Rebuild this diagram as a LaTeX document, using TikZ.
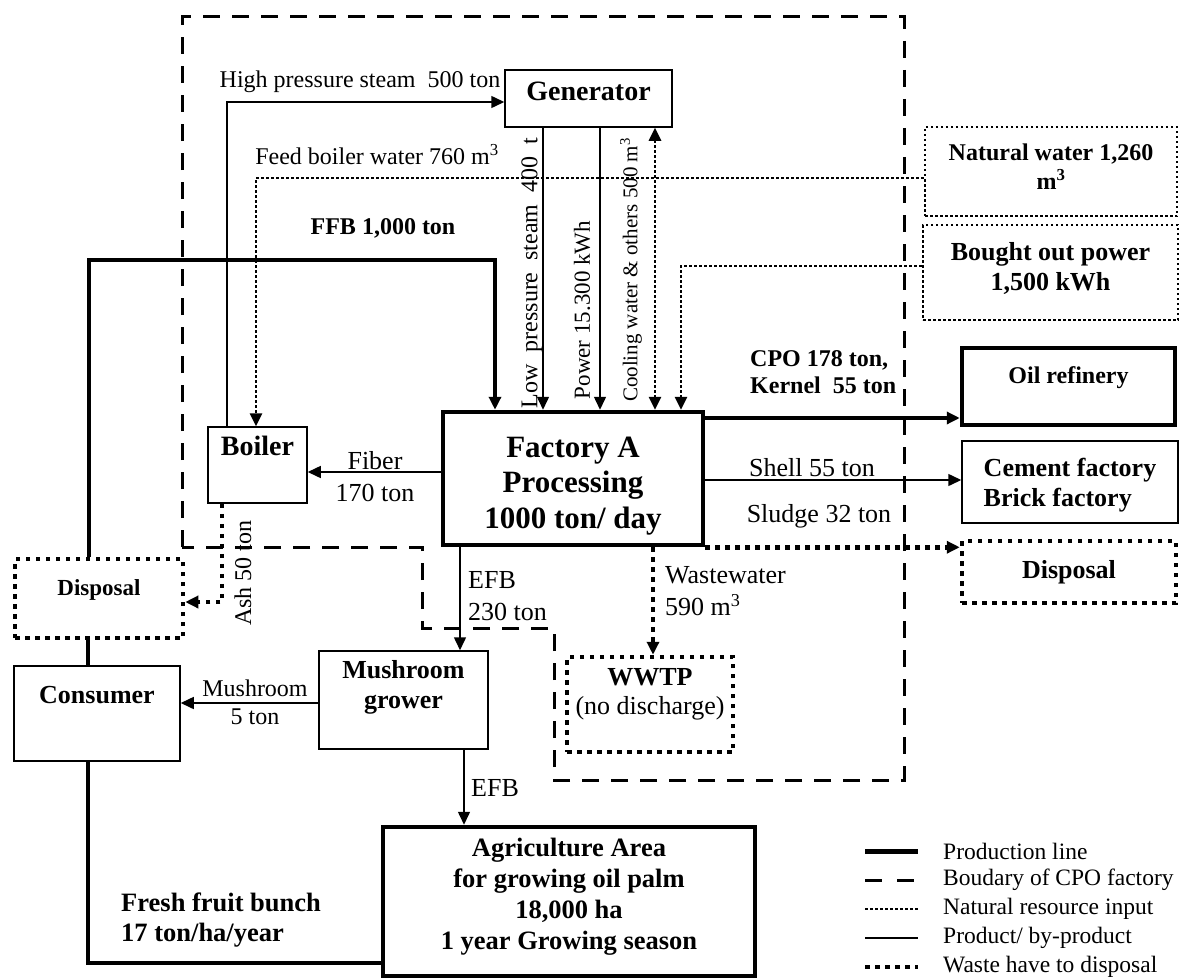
\documentclass[tikz,border=0pt]{standalone}
\usepackage{fontspec}
\setmainfont{Liberation Serif}
\usetikzlibrary{arrows.meta}
\newcommand{\fs}[2]{\fontsize{#1}{#2}\selectfont}
\begin{document}
\begin{tikzpicture}[x=1pt,y=-1pt,
  box/.style={draw, line width=1.5pt, fill=white, inner sep=0pt, align=center},
  prodbox/.style={box, line width=4.5pt},
  dotbox/.style={box, line width=2.6pt, dash pattern=on 2.5pt off 2.5pt},
  wastebox/.style={box, line width=4.5pt, dash pattern=on 4.5pt off 5.5pt},
  thinln/.style={line width=1.5pt},
  prodln/.style={line width=4.5pt},
  boundln/.style={line width=3pt, dash pattern=on 17pt off 12pt},
  natln/.style={line width=2.6pt, dash pattern=on 2.5pt off 2.5pt},
  wasteln/.style={line width=4.5pt, dash pattern=on 4.5pt off 5.5pt},
  tip/.style={-{Triangle[length=13pt,width=12pt]}},
  tips/.style={{Triangle[length=13pt,width=12pt]}-{Triangle[length=13pt,width=12pt]}},
  lbl/.style={inner sep=0pt, align=center, font=\fs{26}{32}},
  lbls/.style={lbl, font=\fs{24}{29}},
  bold/.style={inner sep=0pt, align=center, font=\fs{26}{30}\bfseries},
]
\useasboundingbox (0,0) rectangle (1180,979);

% boundary of the CPO factory
\draw[boundln] (182,547) -- (182,17) -- (904,17) -- (904,780) -- (554,780)
  -- (554,628) -- (422,628) -- (422,547) -- cycle;

% boxes
\node[box, minimum width=167pt, minimum height=57pt] (gen) at (588.5,98.5) {};
\node[bold, font=\fs{28}{32}\bfseries] (genT) at ([yshift=-22pt]gen.north) {Generator};
\node[box, minimum width=99pt, minimum height=76pt] (boiler) at (257.5,465) {};
\node[bold, font=\fs{28}{32}\bfseries] (boilerT) at ([yshift=-20pt]boiler.north) {Boiler};
\node[prodbox, minimum width=260pt, minimum height=133pt] (fac) at (573,478.5) {};
\node[bold, font=\fs{31}{35.5}\bfseries] (facT) at ([yshift=-76pt]fac.north) {Factory A\\Processing\\1000 ton/ day};
\node[dotbox, minimum width=252pt, minimum height=89pt] (natw) at (1051,171.5) {};
\node[bold, font=\fs{24}{29}\bfseries] (natwT) at ([yshift=-41pt]natw.north) {Natural water 1,260\\m\textsuperscript{3}};
\node[dotbox, minimum width=255pt, minimum height=95pt] (bought) at (1050.5,272.5) {};
\node[bold] (boughtT) at ([yshift=-45pt]bought.north) {Bought out power\\1,500 kWh};
\node[prodbox, minimum width=213pt, minimum height=77pt] (oil) at (1068.5,386.5) {};
\node[bold, font=\fs{24}{29}\bfseries] (oilT) at ([yshift=-32pt]oil.north) {Oil refinery};
\node[box, minimum width=216pt, minimum height=82pt] (cement) at (1070,482) {};
\node[bold, align=left] (cementT) at ([yshift=-3pt]cement.center) {Cement factory\\Brick factory};
\node[wastebox, minimum width=214pt, minimum height=62pt] (dispR) at (1069,572) {};
\node[bold] (dispRT) at (dispR.center) {Disposal};
\node[wastebox, minimum width=166pt, minimum height=95pt] (wwtp) at (650,704.5) {};
\node[lbl, font=\fs{26}{29}] (wwtpT) at ([yshift=-40pt]wwtp.north) {\textbf{WWTP}\\(no discharge)};
\node[box, minimum width=169pt, minimum height=98pt] (mush) at (403.5,700) {};
\node[bold] (mushT) at ([yshift=-37pt]mush.north) {Mushroom\\grower};
\node[box, minimum width=166pt, minimum height=95pt] (cons) at (97,713.5) {};
\node[bold] (consT) at ([yshift=-30pt]cons.north) {Consumer};
\node[wastebox, minimum width=168pt, minimum height=79pt] (dispL) at (99,598.5) {};
\node[bold, font=\fs{23}{28}\bfseries] (dispLT) at ([yshift=-33pt]dispL.north) {Disposal};
\node[prodbox, minimum width=372pt, minimum height=149pt] (agri) at (569,901.5) {};
\node[bold, font=\fs{26.5}{31}\bfseries] (agriT) at ([yshift=-72pt]agri.north) {Agriculture Area\\for growing oil palm\\18,000 ha\\1 year Growing season};

% turning points and connector positions
\coordinate (hp) at (227,102);
\coordinate (fw) at (256,178);
\coordinate (ffb) at (89,260);
\coordinate (xffb) at (495,0);
\coordinate (xlps) at (543,0);
\coordinate (xpow) at (600,0);
\coordinate (xcw) at (655,0);
\coordinate (bp) at (681,266);
\coordinate (ycpo) at (0,418);
\coordinate (yshell) at (0,480);
\coordinate (xww) at (653,0);
\coordinate (xefb) at (460,0);
\coordinate (yfib) at (0,472);
\coordinate (ash) at (222,602);
\coordinate (ymush) at (0,703);
\coordinate (xefb2) at (464,0);
\coordinate (pl) at (88,963);

% production line
\draw[prodln] (agri.west |- pl) -- (pl) -- (cons.south -| pl);
\draw[prodln] (cons.north -| pl) -- (dispL.south -| pl);
\draw[prodln, tip] (dispL.north -| ffb) -- (ffb) -| (fac.north -| xffb);
\draw[prodln, tip] (fac.east |- ycpo) -- (oil.west |- ycpo);

% steam, power and water around the generator
\draw[thinln, tip] (boiler.north -| hp) -- (hp) -- (gen.west |- hp);
\draw[natln, tip] (natw.west |- fw) -- (fw) -- (boiler.north -| fw);
\draw[thinln, tip] (gen.south -| xlps) -- (fac.north -| xlps);
\draw[thinln, tip] (gen.south -| xpow) -- (fac.north -| xpow);
\draw[natln, tips] (gen.south -| xcw) -- (fac.north -| xcw);
\draw[natln, tip] (bought.west |- bp) -- (bp) -- (fac.north -| bp);

% by-products
\draw[thinln, tip] (fac.east |- yshell) -- (cement.west |- yshell);
\draw[thinln, tip] (fac.west |- yfib) -- (boiler.east |- yfib);
\draw[thinln, tip] (fac.south -| xefb) -- (mush.north -| xefb);
\draw[thinln, tip] (mush.west |- ymush) -- (cons.east |- ymush);
\draw[thinln, tip] (mush.south -| xefb2) -- (agri.north -| xefb2);

% wastes
\draw[wasteln, tip] (fac.south east) -- (dispR.west |- fac.south east);
\draw[wasteln, tip] (fac.south -| xww) -- (wwtp.north -| xww);
\draw[wasteln, tip] (boiler.south -| ash) -- (ash) -- (dispL.east |- ash);

% flow labels
\node[lbls] (lhp) at (360,82) {High pressure steam\ \ 500 ton};
\node[lbls] (lfw) at (377,155) {Feed boiler water 760 m\textsuperscript{3}};
\node[bold, font=\fs{24}{29}\bfseries] (lffb) at (383,228) {FFB 1,000 ton};
\node[lbls, rotate=90] (llps) at (532,273) {Low\ \ pressure\ \ steam\ \ 400\ \ t};
\node[lbls, font=\fs{23}{28}, rotate=90] (lpow) at (582,310) {Power 15.300 kWh};
\node[lbls, font=\fs{21}{26}, rotate=90] (lcw) at (631,270) {Cooling water \& others 500 m\textsuperscript{3}};
\node[bold, font=\fs{24}{27}\bfseries, align=left, anchor=west] (lcpo) at (750,372) {CPO 178 ton,\\Kernel\ \ 55 ton};
\node[lbl] (lshell) at (812,468) {Shell 55 ton};
\node[lbl] (lsl) at (819,516) {Sludge 32 ton};
\node[lbl] (lfib) at (375,477) {Fiber\\170 ton};
\node[lbls, rotate=90] (lash) at (243,573) {Ash 50 ton};
\node[lbl, align=left, anchor=west] (lefb) at (468,596) {EFB\\230 ton};
\node[lbl, align=left, anchor=west] (lww) at (665,591) {Wastewater\\590 m\textsuperscript{3}};
\node[lbls, font=\fs{24}{28}] (lmush) at (255,702) {Mushroom\\5 ton};
\node[lbl, anchor=west] (lefb2) at (471,788) {EFB};
\node[bold, font=\fs{26.5}{30}\bfseries, align=left, anchor=west] (lffr) at (121,920) {Fresh fruit bunch\\17 ton/ha/year};

% legend
\node[lbls, font=\fs{23.5}{28}, anchor=west] (leg1) at (943,851) {Production line};
\node[lbls, font=\fs{23.5}{28}, anchor=west] (leg2) at (943,880) {Boudary of CPO factory};
\node[lbls, font=\fs{23.5}{28}, anchor=west] (leg3) at (943,909) {Natural resource input};
\node[lbls, font=\fs{23.5}{28}, anchor=west] (leg4) at (943,938) {Product/ by-product};
\node[lbls, font=\fs{23.5}{28}, anchor=west] (leg5) at (943,967) {Waste have to disposal};
\draw[line width=5pt] ([xshift=-78pt]leg1.west) -- ([xshift=-25pt]leg1.west);
\draw[line width=3pt, dash pattern=on 17pt off 15pt] ([xshift=-78pt]leg2.west) -- ([xshift=-28pt]leg2.west);
\draw[natln] ([xshift=-78pt]leg3.west) -- ([xshift=-25pt]leg3.west);
\draw[thinln] ([xshift=-78pt]leg4.west) -- ([xshift=-25pt]leg4.west);
\draw[wasteln] ([xshift=-78pt]leg5.west) -- ([xshift=-25pt]leg5.west);
\end{tikzpicture}
\end{document}
